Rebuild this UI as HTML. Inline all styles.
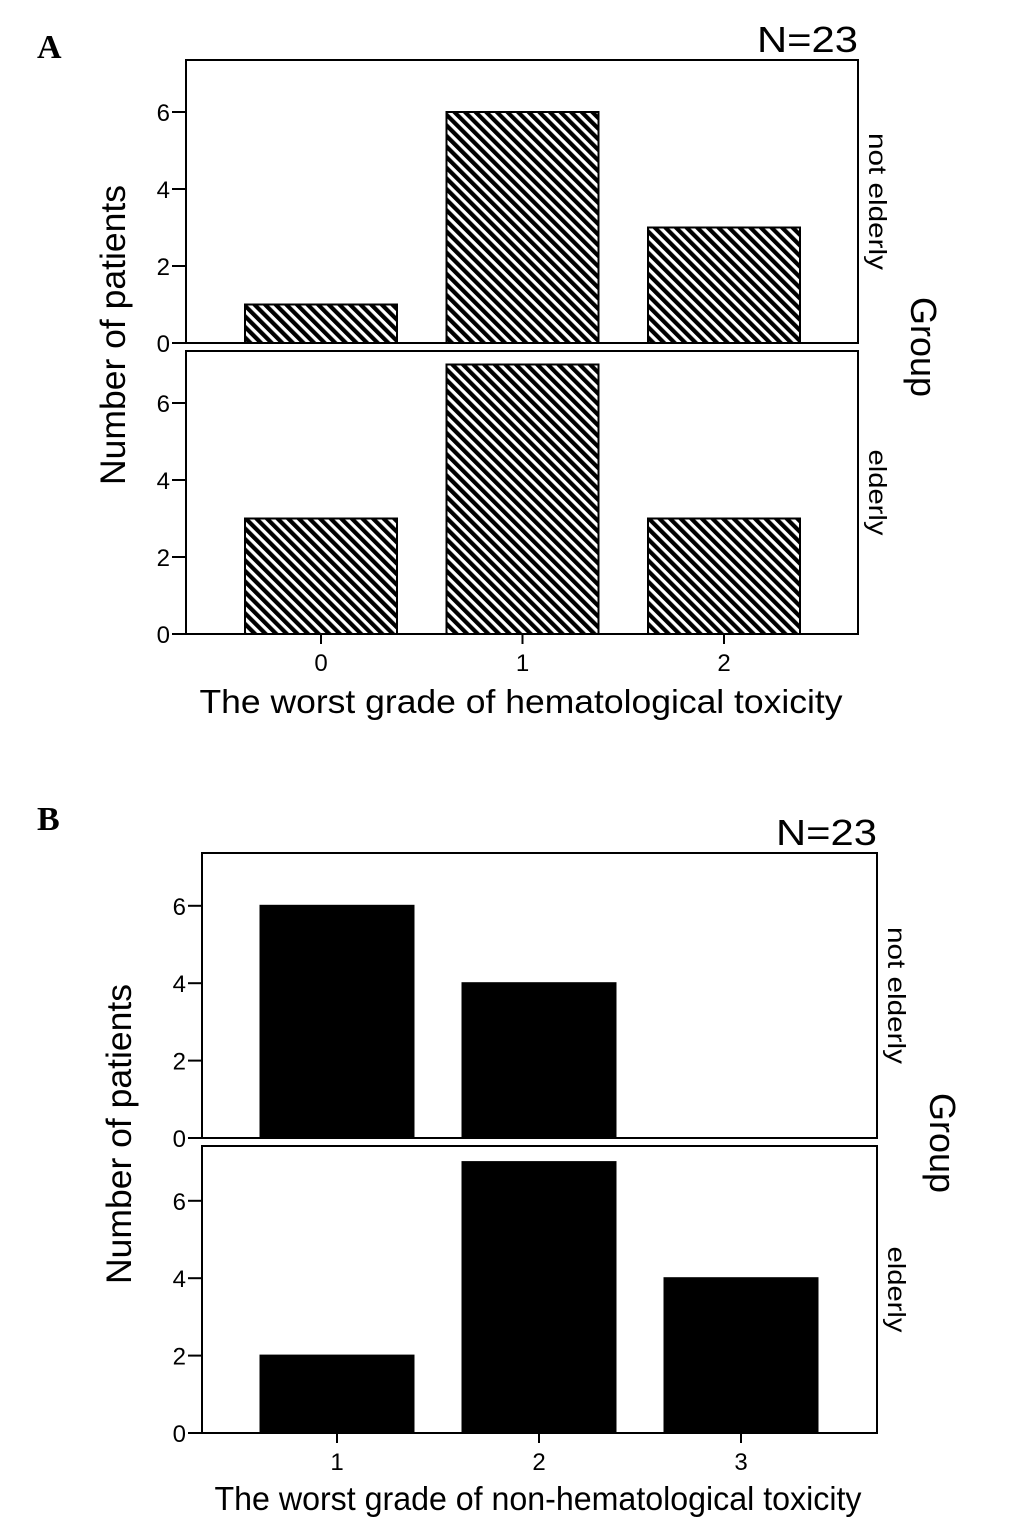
<!DOCTYPE html>
<html><head><meta charset="utf-8"><style>
body{margin:0;background:#fff;}
svg text{font-family:"Liberation Sans",sans-serif;}
</style></head><body>
<svg width="1033" height="1527" viewBox="0 0 1033 1527">
<defs>
<pattern id="hatch" patternUnits="userSpaceOnUse" width="7.5" height="7.5" patternTransform="rotate(-45)">
<rect width="7.5" height="7.5" fill="#fff"/>
<rect width="4.2" height="7.5" fill="#000"/>
</pattern>
</defs>
<g id="chart"></g>
</svg>
<script>
const catsA = ["0","1","2"];
const notElderlyA = [1,6,3];
const elderlyA = [3,7,3];
const catsB = ["1","2","3"];
const notElderlyB = [6,4,0];
const elderlyB = [2,7,4];
const yTicks = [0,2,4,6];

const NS="http://www.w3.org/2000/svg";
const root=document.getElementById('chart');
function mk(tag,attrs,parent,text){const e=document.createElementNS(NS,tag);for(const k in attrs)e.setAttribute(k,attrs[k]);if(text!==undefined)e.textContent=text;(parent||root).appendChild(e);return e;}

function panel(cfg){
  const g=mk('g',{});
  
  
  const t=mk('text',{x:cfg.letterX,y:cfg.letterY,'font-size':34,'font-weight':'bold',style:'font-family:"Liberation Serif",serif'},g,cfg.letter);
  
  
  const n=mk('text',{x:cfg.x1,y:cfg.nY,'font-size':36,'text-anchor':'end',textLength:101,lengthAdjust:'spacingAndGlyphs'},g,'N=23');
  
  
  const xc=i=>cfg.x0+135+cfg.step*i;
  cfg.facets.forEach((f,fi)=>{
    const y0=f.bottom, ppu=cfg.ppu;
    const ys=v=>y0-v*ppu;
    const r=mk('rect',{x:cfg.x0,y:f.top,width:cfg.x1-cfg.x0,height:f.bottom-f.top,fill:'none',stroke:'#000','stroke-width':2},g);
    
    
    yTicks.forEach(v=>{
      mk('line',{x1:cfg.x0-14,x2:cfg.x0,y1:ys(v),y2:ys(v),stroke:'#000','stroke-width':2},g);
      const tl=mk('text',{x:cfg.x0-16,y:ys(v)+9,'font-size':24,'text-anchor':'end'},g,String(v));
      
      
    });
    f.vals.forEach((v,i)=>{
      if(v<=0)return;
      const b=mk('rect',{x:xc(i)-cfg.bw/2,y:ys(v),width:cfg.bw,height:v*ppu,fill:cfg.fill,stroke:'#000','stroke-width':2},g);
      
      
    });
    const cy=(f.top+f.bottom)/2;
    const fl=mk('text',{x:cfg.x1+11,y:cy,'font-size':25,'text-anchor':'middle',textLength:f.len,lengthAdjust:'spacingAndGlyphs',transform:`rotate(90 ${cfg.x1+11} ${cy})`},g,f.label);
    
    
  });
  const last=cfg.facets[cfg.facets.length-1].bottom;
  cfg.cats.forEach((c,i)=>{
    mk('line',{x1:xc(i),x2:xc(i),y1:last,y2:last+10,stroke:'#000','stroke-width':2},g);
    const xl=mk('text',{x:xc(i),y:last+37,'font-size':24,'text-anchor':'middle'},g,c);
    
    
  });
  const xt=mk('text',{x:cfg.xTitleX,y:cfg.xTitleY,'font-size':33,'text-anchor':'middle',textLength:cfg.xTitleLen,lengthAdjust:'spacingAndGlyphs'},g,cfg.xTitle);
  
  
  const midY=cfg.yMid;
  const yt=mk('text',{x:cfg.yTitleX,y:midY,'font-size':35,'text-anchor':'middle',textLength:300,lengthAdjust:'spacingAndGlyphs',transform:`rotate(-90 ${cfg.yTitleX} ${midY})`},g,'Number of patients');
  
  
  const gt=mk('text',{x:cfg.groupX,y:cfg.groupMid,'font-size':36,'text-anchor':'middle',textLength:100,lengthAdjust:'spacingAndGlyphs',transform:`rotate(90 ${cfg.groupX} ${cfg.groupMid})`},g,'Group');
  
  
}

panel({name:'panel-a',letter:'A',letterX:37,letterY:58,nY:52,x0:186,x1:858,step:201.5,bw:152,ppu:38.5,fill:'url(#hatch)',cats:catsA,
  facets:[{key:'not-elderly',label:'not elderly',top:60,bottom:343,vals:notElderlyA,len:137},{key:'elderly',label:'elderly',top:351,bottom:634,vals:elderlyA,len:86}],
  xTitleX:521,xTitleLen:643,xTitleY:713,xTitle:'The worst grade of hematological toxicity',yTitleX:125,yMid:335,groupX:911,groupMid:347});
panel({name:'panel-b',letter:'B',letterX:37,letterY:830,nY:845,x0:202,x1:877,step:202,bw:153,ppu:38.7,fill:'#000',cats:catsB,
  facets:[{key:'not-elderly',label:'not elderly',top:853,bottom:1138,vals:notElderlyB,len:137},{key:'elderly',label:'elderly',top:1146,bottom:1433,vals:elderlyB,len:86}],
  xTitleX:538,xTitleLen:647,xTitleY:1510,xTitle:'The worst grade of non-hematological toxicity',yTitleX:131,yMid:1134,groupX:930,groupMid:1143});
</script>
</body></html>
